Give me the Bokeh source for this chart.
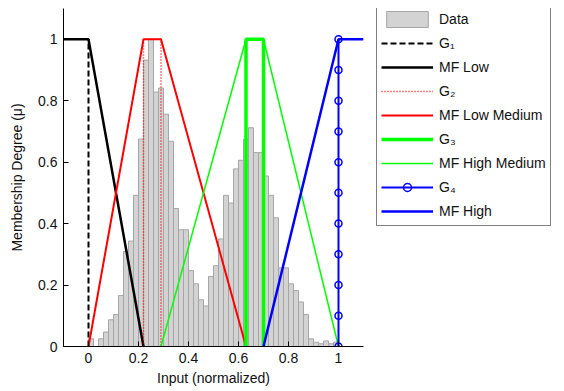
import math
from bokeh.plotting import figure
from bokeh.layouts import row
from bokeh.models import Legend, LegendItem, FixedTicker, Range1d
from bokeh.embed import file_html
from bokeh.resources import INLINE

# ---------------- data ----------------
bin_start = 0.0
bin_width = 0.02
hist_heights = [0.025, 0.0, 0.025, 0.047, 0.087, 0.104, 0.166, 0.309, 0.343, 0.492,
                0.675, 0.932, 1.0, 0.828, 0.841, 0.756, 0.668, 0.449, 0.38, 0.38,
                0.247, 0.204, 0.152, 0.132, 0.228, 0.263, 0.350, 0.492, 0.467, 0.578,
                0.606, 0.675, 0.712, 0.631, 0.631, 0.555, 0.492, 0.419, 0.256, 0.256,
                0.204, 0.182, 0.145, 0.104, 0.025, 0.014, 0.009, 0.018, 0.009, 0.014]

g1_x = [0.0, 0.0]
g1_y = [0.0, 1.0]
mf_low_x = [-0.1, 0.0, 0.22]
mf_low_y = [1.0, 1.0, 0.0]
g2_x = [0.22, 0.22, 0.29, 0.29]
g2_y = [0.0, 1.0, 1.0, 0.0]
mf_lowmed_x = [0.0, 0.22, 0.29, 0.63]
mf_lowmed_y = [0.0, 1.0, 1.0, 0.0]
g3_x = [0.63, 0.63, 0.70, 0.70]
g3_y = [0.0, 1.0, 1.0, 0.0]
mf_highmed_x = [0.29, 0.63, 0.70, 1.0]
mf_highmed_y = [0.0, 1.0, 1.0, 0.0]
g4_x = [1.0] * 11
g4_y = [0.0, 0.1, 0.2, 0.3, 0.4, 0.5, 0.6, 0.7, 0.8, 0.9, 1.0]
mf_high_x = [0.70, 1.0, 1.1]
mf_high_y = [0.0, 1.0, 1.0]

x_ticks = [0, 0.2, 0.4, 0.6, 0.8, 1]
x_tick_labels = ["0", "0.2", "0.4", "0.6", "0.8", "1"]
y_ticks = [0, 0.2, 0.4, 0.6, 0.8, 1]
y_tick_labels = ["0", "0.2", "0.4", "0.6", "0.8", "1"]

legend_labels = ["Data", "G\u2081", "MF Low", "G\u2082", "MF Low Medium",
                 "G\u2083", "MF High Medium", "G\u2084", "MF High"]

# ---------------- styles ----------------
FONT = "Liberation Sans"
BLACK = "black"
RED = "#ff0000"
GREEN = "#00ff00"
BLUE = "#0000ff"
styles = {
    "data": dict(fill_color="#d3d3d3", line_color="#a6a6a6", line_width=1),
    "g1": dict(line_color=BLACK, line_width=2, line_dash="6 3"),
    "low": dict(line_color=BLACK, line_width=2.5),
    "g2": dict(line_color=RED, line_width=1.5, line_dash="1 2"),
    "lowmed": dict(line_color=RED, line_width=2),
    "g3": dict(line_color=GREEN, line_width=3.5),
    "highmed": dict(line_color=GREEN, line_width=1.5),
    "g4l": dict(line_color=BLUE, line_width=2),
    "g4m": dict(marker="circle", size=7, fill_color=None, line_color=BLUE, line_width=1.5),
    "high": dict(line_color=BLUE, line_width=2.5),
}

lefts = [bin_start + i * bin_width for i in range(len(hist_heights))]
rights = [l + bin_width for l in lefts]


def draw_all(fig):
    return [
        [fig.quad(left=lefts, right=rights, top=hist_heights, bottom=0, **styles["data"])],
        [fig.line(g1_x, g1_y, **styles["g1"])],
        [fig.line(mf_low_x, mf_low_y, **styles["low"])],
        [fig.line(g2_x, g2_y, **styles["g2"])],
        [fig.line(mf_lowmed_x, mf_lowmed_y, **styles["lowmed"])],
        [fig.line(g3_x, g3_y, **styles["g3"])],
        [fig.line(mf_highmed_x, mf_highmed_y, **styles["highmed"])],
        [fig.line(g4_x, g4_y, **styles["g4l"]), fig.scatter(g4_x, g4_y, **styles["g4m"])],
        [fig.line(mf_high_x, mf_high_y, **styles["high"])],
    ]


# ---------------- main figure ----------------
p = figure(width=370, height=390,
           x_range=Range1d(-0.1, 1.1), y_range=Range1d(0, 1.1),
           output_backend="svg", toolbar_location=None,
           min_border_left=63, min_border_right=7,
           min_border_top=8, min_border_bottom=44)
p.grid.visible = False
p.outline_line_color = None
p.background_fill_color = "white"
draw_all(p)

for ax in (p.xaxis[0], p.yaxis[0]):
    ax.major_tick_in = 5
    ax.major_tick_out = 0
    ax.minor_tick_line_color = None
    ax.axis_line_color = "black"
    ax.major_tick_line_color = "black"
    ax.major_label_text_font = FONT
    ax.major_label_text_font_size = "14px"
    ax.major_label_text_color = "#111111"
    ax.axis_label_text_font = FONT
    ax.axis_label_text_font_size = "14px"
    ax.axis_label_text_font_style = "normal"
    ax.axis_label_text_color = "#111111"
    ax.major_label_standoff = 6

p.xaxis.ticker = FixedTicker(ticks=x_ticks)
p.xaxis.major_label_overrides = dict(zip(x_ticks, x_tick_labels))
p.yaxis.ticker = FixedTicker(ticks=y_ticks)
p.yaxis.major_label_overrides = dict(zip(y_ticks, y_tick_labels))
p.xaxis.axis_label = "Input (normalized)"
p.yaxis.axis_label = "Membership Degree (\u03bc)"
p.xaxis.axis_label_standoff = 4
p.yaxis.axis_label_standoff = 10

# ---------------- legend panel (same series, view range kept off the data) ----------------
q = figure(width=190, height=390, output_backend="svg", toolbar_location=None,
           x_range=Range1d(100, 101), y_range=Range1d(100, 101),
           x_axis_location=None, y_axis_location=None,
           min_border_left=0, min_border_right=0, min_border_top=0, min_border_bottom=0)
q.grid.visible = False
q.outline_line_color = None
lr = draw_all(q)

items = [LegendItem(label=lab, renderers=rs) for lab, rs in zip(legend_labels, lr)]
legend = Legend(items=items, location=(6, 120), margin=0, padding=4, spacing=4,
                glyph_height=20, glyph_width=52, label_height=20, label_standoff=6,
                border_line_color="black", border_line_width=1,
                background_fill_color="white", background_fill_alpha=1.0,
                label_text_font=FONT, label_text_font_size="14px",
                label_text_color="#111111")
q.add_layout(legend)

layout = row(p, q, spacing=0)
open("out.html", "w").write(file_html(layout, INLINE))
